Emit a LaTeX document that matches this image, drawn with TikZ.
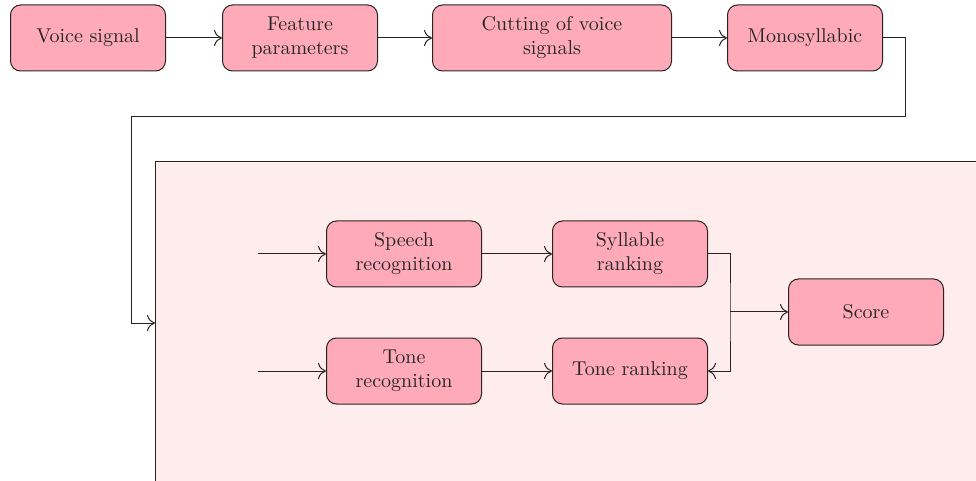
\documentclass[tikz,border=0pt]{standalone}
\usepackage{amsmath,amssymb}
\usepackage{tikz}
\usetikzlibrary{calc}
\usetikzlibrary{arrows.meta}
\usetikzlibrary{backgrounds}

\definecolor{boxpink}{RGB}{255,170,185}
\definecolor{panelpink}{RGB}{255,236,236}
\definecolor{edge}{RGB}{40,35,35}

\tikzset{
    stage/.style={rectangle, rounded corners=5pt, draw=edge, fill=boxpink, minimum width=77.5pt, minimum height=33pt, align=center, font=\normalsize, text=black!85},
    flow/.style={-{To[length=4pt, width=8pt]}, edge}
}

\begin{document}
\begin{tikzpicture}[x=0.5pt, y=-0.5pt, line width=0.5pt]
    \useasboundingbox (0,0) rectangle (976,481);
    \clip (0,0) rectangle (976,481);

    \draw [edge, fill=panelpink] (155,162) rectangle (990,495);

    \node (V) at (88,38) [stage] {Voice signal};
    \node (F) at (300,38) [stage] {Feature\\parameters};
    \node (C) at (552,38) [stage, minimum width=119.5pt] {Cutting of voice\\signals};
    \node (M) at (805,38) [stage] {Monosyllabic};

    \node (SR) at (404,254) [stage] {Speech\\recognition};
    \node (TR) at (404,371) [stage] {Tone\\recognition};
    \node (SK) at (630,254) [stage] {Syllable\\ranking};
    \node (TK) at (630,371) [stage] {Tone ranking};
    \node (SC) at (866,312) [stage] {Score};

    \coordinate (P) at (155,323);
    \coordinate (I1) at (258,254);
    \coordinate (I2) at (258,371);
    \coordinate (J) at (730,312);

    \draw [flow] (V) -- (F);
    \draw [flow] (F) -- (C);
    \draw [flow] (C) -- (M);
    \draw [flow] (M.east) -- (905,38) -- (905,117) -- (131,117) -- (131,323) -- (P);

    \draw [flow] (I1) -- (SR);
    \draw [flow] (I2) -- (TR);
    \draw [flow] (SR) -- (SK);
    \draw [flow] (TR) -- (TK);
    \draw [flow] (SK.east) -| (J) |- (TK.east);
    \draw [flow] (J) -- (SC);
\end{tikzpicture}
\end{document}
